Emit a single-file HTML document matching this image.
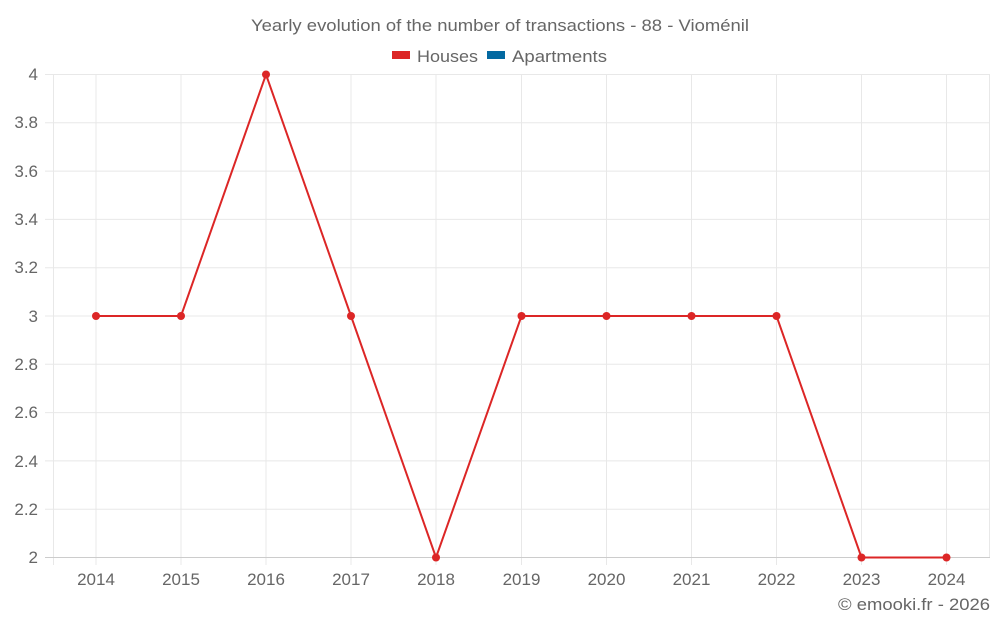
<!DOCTYPE html><html><head><style>body{margin:0;background:#fff}svg{font-family:"Liberation Sans",sans-serif}</style></head><body>
<svg width="1000" height="625" xmlns="http://www.w3.org/2000/svg">
<text x="251" y="31" font-size="17" fill="#666" textLength="498" lengthAdjust="spacingAndGlyphs">Yearly evolution of the number of transactions - 88 - Vioménil</text>
<rect x="392" y="51" width="18" height="8" fill="#dc2626"/>
<text x="417" y="62" font-size="17" fill="#666" textLength="61" lengthAdjust="spacingAndGlyphs">Houses</text>
<rect x="487" y="51" width="18" height="8" fill="#0369a1"/>
<text x="512" y="62" font-size="17" fill="#666" textLength="95" lengthAdjust="spacingAndGlyphs">Apartments</text>
<g stroke="#e8e8e8" stroke-width="1">
<line x1="45" x2="990" y1="74.5" y2="74.5"/><line x1="45" x2="990" y1="122.8" y2="122.8"/><line x1="45" x2="990" y1="171.1" y2="171.1"/><line x1="45" x2="990" y1="219.4" y2="219.4"/><line x1="45" x2="990" y1="267.7" y2="267.7"/><line x1="45" x2="990" y1="316" y2="316"/><line x1="45" x2="990" y1="364.3" y2="364.3"/><line x1="45" x2="990" y1="412.6" y2="412.6"/><line x1="45" x2="990" y1="460.9" y2="460.9"/><line x1="45" x2="990" y1="509.2" y2="509.2"/>
<line x1="53.5" x2="53.5" y1="74" y2="565"/>
<line x1="96" x2="96" y1="74" y2="565"/><line x1="181" x2="181" y1="74" y2="565"/><line x1="266" x2="266" y1="74" y2="565"/><line x1="351" x2="351" y1="74" y2="565"/><line x1="436" x2="436" y1="74" y2="565"/><line x1="521.5" x2="521.5" y1="74" y2="565"/><line x1="606.5" x2="606.5" y1="74" y2="565"/><line x1="691.5" x2="691.5" y1="74" y2="565"/><line x1="776.5" x2="776.5" y1="74" y2="565"/><line x1="861.5" x2="861.5" y1="74" y2="565"/><line x1="946.5" x2="946.5" y1="74" y2="565"/><line x1="989.5" x2="989.5" y1="74" y2="557"/>
</g>
<line x1="45" x2="990" y1="557.5" y2="557.5" stroke="#ccc"/>
<g font-size="17" fill="#666" text-anchor="end">
<text x="38" y="80">4</text><text x="38" y="128">3.8</text><text x="38" y="177">3.6</text><text x="38" y="225">3.4</text><text x="38" y="273">3.2</text><text x="38" y="322">3</text><text x="38" y="370">2.8</text><text x="38" y="418">2.6</text><text x="38" y="467">2.4</text><text x="38" y="515">2.2</text><text x="38" y="563">2</text>
</g>
<g font-size="17" fill="#666" text-anchor="middle">
<text x="96" y="585">2014</text><text x="181" y="585">2015</text><text x="266" y="585">2016</text><text x="351" y="585">2017</text><text x="436" y="585">2018</text><text x="521.5" y="585">2019</text><text x="606.5" y="585">2020</text><text x="691.5" y="585">2021</text><text x="776.5" y="585">2022</text><text x="861.5" y="585">2023</text><text x="946.5" y="585">2024</text>
</g>
<text x="838" y="610" font-size="17" fill="#666" textLength="152" lengthAdjust="spacingAndGlyphs">© emooki.fr - 2026</text>
<polyline fill="none" stroke="#dc2626" stroke-width="2" points="96,316 181,316 266,74.5 351,316 436,557.5 521.5,316 606.5,316 691.5,316 776.5,316 861.5,557.5 946.5,557.5"/>
<g fill="#dc2626"><circle cx="96" cy="316" r="4"/><circle cx="181" cy="316" r="4"/><circle cx="266" cy="74.5" r="4"/><circle cx="351" cy="316" r="4"/><circle cx="436" cy="557.5" r="4"/><circle cx="521.5" cy="316" r="4"/><circle cx="606.5" cy="316" r="4"/><circle cx="691.5" cy="316" r="4"/><circle cx="776.5" cy="316" r="4"/><circle cx="861.5" cy="557.5" r="4"/><circle cx="946.5" cy="557.5" r="4"/></g>
</svg></body></html>
